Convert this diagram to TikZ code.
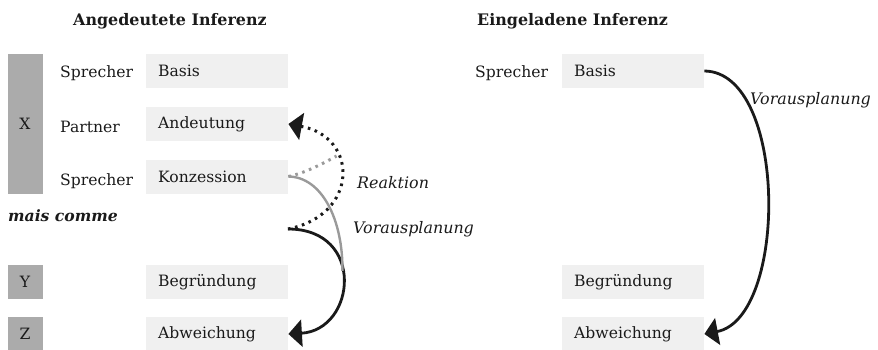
\documentclass[tikz,border=0pt]{standalone}
\usepackage{fontspec}
\setmainfont{DejaVu Serif}
\usetikzlibrary{arrows.meta}
\definecolor{boxfill}{HTML}{F0F0F0}
\definecolor{barfill}{HTML}{ABABAB}
\definecolor{ink}{HTML}{1A1A1A}
\definecolor{greyline}{HTML}{9A9A9A}
\begin{document}
\begin{tikzpicture}[x=1pt,y=-1pt,
  every node/.style={text=ink, inner sep=0pt},
  txt/.style={font=\fontsize{15.6}{18}\selectfont},
  title/.style={font=\fontsize{15.9}{20}\selectfont\bfseries},
  lbl/.style={font=\fontsize{15.9}{18}\selectfont\itshape},
  stepbox/.style={fill=boxfill, draw=none, minimum height=34pt, text width=118pt,
    inner xsep=12pt, align=left, anchor=west, font=\fontsize{15.6}{18}\selectfont},
  bar/.style={fill=barfill, draw=none, minimum width=35pt, font=\fontsize{15.6}{18}\selectfont},
  tip/.style={-{Triangle[length=13.5pt,width=27pt]}},
  solidarc/.style={draw=ink, line width=2.8pt, tip},
  dotarc/.style={draw=ink, line width=3pt, dash pattern=on 2.6pt off 4.6pt, tip},
  greysolid/.style={draw=greyline, line width=2.4pt},
  greydot/.style={draw=greyline, line width=3pt, dash pattern=on 2.6pt off 4.6pt}
]
\useasboundingbox (0,0) rectangle (878,350);

% titles
\node[title, anchor=base west] (t1) at (73,26) {Angedeutete Inferenz};
\node[title, anchor=base west] (t2) at (477,26) {Eingeladene Inferenz};

% left column: participant bars
\node[bar, minimum height=140pt] (bx) at (25,124) {X};
\node[bar, minimum height=34pt] (by) at (25,282) {Y};
\node[bar, minimum height=34pt] (bz) at (25,334) {Z};

% left column: roles
\node[txt, anchor=base west] (r1) at (60,78) {Sprecher};
\node[txt, anchor=base west] (r2) at (60,133) {Partner};
\node[txt, anchor=base west] (r3) at (60,185) {Sprecher};
\node[font=\fontsize{15.6}{18}\selectfont\bfseries\itshape, anchor=base west] (mc) at (8,221) {mais comme};

% left column: moves
\node[stepbox] (lBas) at (146,71) {Basis};
\node[stepbox] (lAnd) at (146,124) {Andeutung};
\node[stepbox] (lKon) at (146,176.5) {Konzession};
\node[stepbox] (lBeg) at (146,282) {Begründung};
\node[stepbox] (lAbw) at (146,334) {Abweichung};
\coordinate (mcEnd) at (288,229);

% left column: connectors
\draw[dotarc] (mcEnd) .. controls (359,215) and (359,137) .. (lAnd.east)
  coordinate[pos=0.65] (jr);
\draw[greydot] (lKon.east) .. controls (305,173) and (322,164) .. (jr);
\draw[solidarc] (mcEnd) .. controls (366,229) and (356,330) .. (lAbw.east)
  coordinate[pos=0.44] (jb);
\draw[greysolid] (lKon.east) .. controls (322,177) and (343,220) .. (jb);

\node[lbl, anchor=base west] (lr) at (357,188) {Reaktion};
\node[lbl, anchor=base west] (lv) at (353,233) {Vorausplanung};

% right column
\node[txt, anchor=base west] (r4) at (475,78) {Sprecher};
\node[stepbox] (rBas) at (562,71) {Basis};
\node[stepbox] (rBeg) at (562,282) {Begründung};
\node[stepbox] (rAbw) at (562,334) {Abweichung};
\draw[solidarc] (rBas.east) .. controls (788,72) and (788,318) .. (rAbw.east);
\node[lbl, anchor=base west] (rv) at (750,105) {Vorausplanung};
\end{tikzpicture}
\end{document}
